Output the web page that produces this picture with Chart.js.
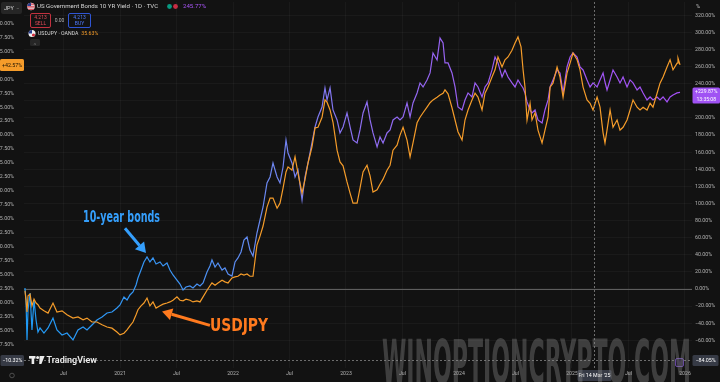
<!DOCTYPE html>
<html><head><meta charset="utf-8">
<script src="https://cdn.jsdelivr.net/npm/chart.js@4.4.1/dist/chart.umd.min.js"></script>
<style>html,body{margin:0;padding:0;background:#121212;overflow:hidden}#wrap{width:720px;height:382px}</style>
</head><body><div id="wrap"><canvas id="c" width="720" height="382"></canvas></div>
<script>
// ---- data (x = fractional year) ----
const dates = [
2020.159,2020.168,2020.177,2020.186,2020.204,2020.221,2020.239,2020.257,2020.274,2020.292,
2020.327,2020.363,2020.407,2020.442,2020.487,2020.531,2020.584,2020.628,2020.673,2020.708,
2020.752,2020.796,2020.841,2020.885,2020.929,2020.973,2021.000,2021.035,2021.062,2021.088,
2021.115,2021.142,2021.159,2021.186,2021.212,2021.239,2021.265,2021.292,2021.319,2021.354,
2021.381,2021.416,2021.442,2021.469,2021.504,2021.531,2021.558,2021.584,2021.619,2021.646,
2021.681,2021.708,2021.735,2021.770,2021.796,2021.814,2021.841,2021.867,2021.903,2021.929,
2021.956,2021.991,2022.018,2022.044,2022.071,2022.097,2022.124,2022.150,2022.177,
2022.212,2022.239,2022.266,2022.301,2022.328,2022.354,2022.390,2022.416,2022.443,2022.469,
2022.487,2022.522,2022.549,2022.575,2022.611,2022.637,2022.664,2022.699,2022.726,2022.752,
2022.788,2022.814,2022.832,2022.859,2022.885,2022.921,2022.947,2022.974,2023.009,2023.036,
2023.062,2023.098,2023.124,2023.151,2023.186,2023.213,2023.239,2023.275,2023.301,2023.328,
2023.363,2023.390,2023.416,2023.452,2023.478,
2023.505,2023.540,2023.567,2023.593,2023.629,2023.655,2023.682,2023.717,2023.744,2023.770,
2023.806,2023.832,2023.859,2023.876,2023.903,2023.938,2023.965,2023.991,2024.027,2024.053,
2024.080,2024.115,2024.142,2024.168,2024.204,2024.230,2024.257,2024.292,2024.319,2024.345,
2024.381,2024.407,2024.434,2024.469,2024.496,2024.522,2024.549,2024.567,2024.584,2024.602,
2024.629,2024.646,2024.673,2024.699,2024.735,2024.761,2024.788,
2024.806,2024.832,2024.868,2024.894,2024.921,2024.956,2024.983,2025.009,2025.045,2025.071,
2025.098,2025.133,2025.160,2025.186,2025.222,2025.248,2025.275,2025.292,2025.310,2025.337,
2025.363,2025.399,2025.425,2025.452,2025.487,2025.514,2025.540,2025.576,2025.602,2025.629,
2025.664,2025.691,2025.717,2025.753,2025.779,2025.806,2025.841,2025.868,2025.894,2025.930,
2025.938,2025.956];

// US 10Y yield, % change (right scale)
const us10y = [
1.2,-12.9,-59.6,-24.6,-4.7,-48.0,-12.9,-36.3,-50.3,-45.6,
-51.5,-45.6,-33.9,-48.0,-53.8,-51.5,-59.6,-48.0,-44.4,-48.0,
-42.1,-36.3,-32.7,-28.1,-26.9,-22.2,-18.7,-9.4,-12.9,-7.0,
-3.5,4.7,12.9,22.2,31.6,37.4,31.6,36.3,29.2,31.6,
26.9,30.4,22.2,16.4,10.5,5.8,-1.2,2.3,3.5,1.2,
5.8,3.5,7.0,19.9,26.9,33.9,25.7,30.4,22.2,24.6,
17.5,15.2,31.6,36.3,43.3,57.3,60.8,45.6,38.6,
65.5,80.7,95.9,124.0,131.0,147.4,131.0,124.0,142.7,174.3,
159.1,147.4,131.0,139.2,104.1,131.0,147.4,170.8,189.5,201.2,
212.9,235.1,221.1,235.1,209.4,197.7,182.5,189.5,205.9,189.5,
174.3,170.8,186.0,205.9,218.8,197.7,182.5,166.1,177.8,170.8,
182.5,186.0,197.7,201.2,197.7,
201.2,217.6,201.2,217.6,229.3,241.0,236.3,244.5,252.7,276.1,
267.9,293.6,287.8,264.4,264.4,252.7,236.3,212.9,209.4,221.1,
229.3,224.6,241.0,236.3,224.6,236.3,241.0,256.2,271.4,264.4,
248.0,256.2,248.0,241.0,236.3,244.5,238.6,235.1,229.3,218.8,
209.4,205.9,209.4,197.7,194.2,209.4,221.1,
236.3,244.5,256.2,252.7,229.3,259.7,271.4,276.1,271.4,259.7,
256.2,244.5,236.3,241.0,236.3,244.5,252.7,242.1,232.8,244.5,
256.2,248.0,241.0,248.0,236.3,244.5,241.0,232.8,236.3,229.3,
221.1,224.6,221.1,224.6,221.1,224.6,218.8,224.6,226.9,229.3,
229.3,229.87];

// USDJPY, % change (left scale)
const usdjpy = [
2.1,0.4,-1.7,1.2,1.5,-0.6,0.6,-0.1,-0.4,-1.0,
-1.5,-1.9,-0.1,-1.7,-1.5,-2.2,-2.8,-2.6,-3.1,-2.8,
-3.5,-3.5,-4.0,-4.4,-4.6,-5.3,-5.8,-5.5,-4.9,-4.2,
-3.5,-2.2,-1.3,-0.6,-0.1,0.8,-0.6,0.1,-1.0,-0.6,
-0.3,-0.1,0.1,0.4,1.0,0.4,0.3,0.6,0.4,0.1,
0.3,0.1,1.0,2.2,3.0,3.5,3.1,3.5,4.0,3.7,
3.5,4.4,4.6,4.7,5.1,4.9,5.1,4.7,4.7,
10.3,11.9,13.7,17.1,18.7,18.7,16.9,17.8,20.5,23.4,
24.3,23.7,26.1,23.2,19.6,22.0,25.0,27.9,31.3,31.4,
33.2,36.3,35.9,34.5,32.3,27.3,25.2,24.5,21.6,19.6,
17.8,17.8,20.5,23.4,24.6,22.7,19.8,20.2,21.2,22.1,
23.7,24.6,27.3,28.2,30.0,
31.4,29.1,26.1,28.6,32.2,33.2,34.0,35.0,35.8,36.3,
36.8,37.2,37.5,38.1,37.4,34.9,32.7,30.6,29.1,32.7,
34.5,36.3,37.5,36.8,34.5,37.5,38.6,40.4,41.7,44.0,
42.2,43.5,44.0,45.2,46.5,47.6,45.8,41.7,38.6,32.7,
35.7,32.7,34.0,30.9,28.6,30.9,33.2,
38.6,39.3,42.2,40.4,36.8,41.1,42.9,44.7,43.5,41.7,
38.6,36.3,35.7,34.5,36.8,35.0,30.4,28.6,30.9,34.5,
31.4,32.7,30.9,31.4,32.7,34.5,36.3,35.0,34.5,35.0,
34.5,35.7,35.0,37.5,39.3,40.4,42.2,43.5,41.7,42.9,
43.8,42.57];

const xTicks = [2020.5,2021,2021.5,2022,2022.5,2023,2023.5,2024,2024.5,2025,2025.5,2026];
const leftTicks = [-7.5,-5,-2.5,0,2.5,5,7.5,10,12.5,15,17.5,20,22.5,25,27.5,30,32.5,35,37.5,40,42.5,45,47.5,50];
const rightTicks = [-60,-40,-20,0,20,40,60,80,100,120,140,160,180,200,220,240,260,280,300,320];

// crosshair (Fri 14 Mar '25) and its read-outs
const crossX = 2025.197, crossLeft = -10.32, crossRight = -84.05;
const crossDateLabel = "Fri 14 Mar '25";
const legend10y = '245.77%', legendJpy = '35.63%';

// annotations in data coordinates
const noteBonds = {text:'10-year bonds', x0:2020.673, x1:2021.354, y:83};
const arrowBonds = {x0:2021.044, y0:71, x1:2021.230, y1:42};
const noteJpy = {text:'USDJPY', x0:2021.796, x1:2022.310, y:-4.2};
const arrowJpy = {x0:2021.796, y0:-4.1, x1:2021.372, y1:-1.6};

const BG = '#121212';
const TXT = '#b2b2b2';
const ORANGE = '#f59c2a';
Chart.defaults.font.family = 'Roboto, "DejaVu Sans", sans-serif';

const fmtPct = v => (v < 0 ? '\u2212' : '') + Math.abs(v).toFixed(2) + '%';

function roundRect(c, x, y, w, h, r) {
  c.beginPath(); c.moveTo(x + r, y); c.lineTo(x + w - r, y); c.quadraticCurveTo(x + w, y, x + w, y + r);
  c.lineTo(x + w, y + h - r); c.quadraticCurveTo(x + w, y + h, x + w - r, y + h); c.lineTo(x + r, y + h);
  c.quadraticCurveTo(x, y + h, x, y + h - r); c.lineTo(x, y + r); c.quadraticCurveTo(x, y, x + r, y); c.closePath();
}
function fitText(c, text, cx, cy, w, font, color) {
  c.save(); c.font = font; const m = c.measureText(text).width;
  c.translate(cx, cy); c.scale(w / m, 1); c.textAlign = 'center'; c.textBaseline = 'middle';
  c.fillStyle = color; c.fillText(text, 0, 0); c.restore();
}
function arrow(c, x0, y0, x1, y1, color, lw, head) {
  const a = Math.atan2(y1 - y0, x1 - x0);
  const bx = x1 - head * Math.cos(a), by = y1 - head * Math.sin(a);
  c.save(); c.strokeStyle = color; c.fillStyle = color; c.lineWidth = lw; c.lineCap = 'butt';
  c.beginPath(); c.moveTo(x0, y0); c.lineTo(bx, by); c.stroke();
  const hw = head * 0.6;
  c.beginPath(); c.moveTo(x1, y1);
  c.lineTo(bx + hw * Math.sin(a), by - hw * Math.cos(a));
  c.lineTo(bx - hw * Math.sin(a), by + hw * Math.cos(a)); c.closePath(); c.fill(); c.restore();
}
function label(c, x, y, w, h, bg, lines, color, font) {
  c.save(); c.fillStyle = bg; roundRect(c, x, y, w, h, 1.5); c.fill();
  c.fillStyle = color; c.font = font; c.textAlign = 'center'; c.textBaseline = 'middle';
  const step = h / lines.length;
  lines.forEach((t, i) => c.fillText(t, x + w / 2, y + step * (i + 0.5) + 0.3));
  c.restore();
}

const bgPlugin = { id: 'bg', beforeDraw(chart) { const c = chart.ctx; c.save(); c.fillStyle = BG; c.fillRect(0, 0, chart.width, chart.height); c.restore(); } };

const overlay = {
  id: 'overlay',
  beforeDatasetsDraw(chart) {
    const { ctx: c, chartArea: a, scales } = chart;
    const y0 = Math.round(scales.yR.getPixelForValue(0)) + 0.5;
    c.save(); c.strokeStyle = '#5e5e5e'; c.lineWidth = 1;
    c.beginPath(); c.moveTo(a.left, y0); c.lineTo(a.right, y0); c.stroke(); c.restore();
  },
  afterDraw(chart) {
    const { ctx: c, chartArea: a, scales } = chart;
    const X = scales.x, L = scales.yL, R = scales.yR;

    // annotations
    const by = R.getPixelForValue(noteBonds.y);
    const bx0 = X.getPixelForValue(noteBonds.x0), bx1 = X.getPixelForValue(noteBonds.x1);
    fitText(c, noteBonds.text, (bx0 + bx1) / 2, by, bx1 - bx0, 'bold 16px "DejaVu Sans Condensed", "DejaVu Sans"', '#359ffc');
    arrow(c, X.getPixelForValue(arrowBonds.x0), R.getPixelForValue(arrowBonds.y0),
          X.getPixelForValue(arrowBonds.x1), R.getPixelForValue(arrowBonds.y1), '#359ffc', 3, 10);
    const jy = L.getPixelForValue(noteJpy.y);
    const jx0 = X.getPixelForValue(noteJpy.x0), jx1 = X.getPixelForValue(noteJpy.x1);
    fitText(c, noteJpy.text, (jx0 + jx1) / 2, jy, jx1 - jx0, 'bold 18px "DejaVu Sans Condensed", "DejaVu Sans"', '#ff7a1e');
    arrow(c, X.getPixelForValue(arrowJpy.x0), L.getPixelForValue(arrowJpy.y0),
          X.getPixelForValue(arrowJpy.x1), L.getPixelForValue(arrowJpy.y1), '#ff7a1e', 3, 10);

    // crosshair
    const cx = Math.round(X.getPixelForValue(crossX)) + 0.5;
    const cy = Math.round(L.getPixelForValue(crossLeft)) + 0.5;
    c.save(); c.strokeStyle = '#6d6d6d'; c.lineWidth = 1; c.setLineDash([2, 2]);
    c.beginPath(); c.moveTo(cx, a.top); c.lineTo(cx, a.bottom); c.stroke();
    c.beginPath(); c.moveTo(a.left, cy); c.lineTo(a.right, cy); c.stroke(); c.restore();

    // TradingView logo
    c.save(); c.fillStyle = '#ececec';
    c.fillRect(29, 356, 6.5, 2.6); c.fillRect(31.6, 356, 2.6, 8);
    c.beginPath(); c.arc(37.6, 357.4, 1.5, 0, Math.PI * 2); c.fill();
    c.beginPath(); c.moveTo(39.6, 356); c.lineTo(44.6, 356); c.lineTo(41.4, 364); c.lineTo(39.2, 364); c.closePath(); c.fill();
    c.font = '600 9px Roboto'; c.textBaseline = 'middle'; c.fillText('TradingView', 46.5, 360.5); c.restore();

    // small icons
    c.save(); c.strokeStyle = '#5a5a5a'; c.lineWidth = 0.8; c.beginPath(); c.arc(12, 375.5, 2.3, 0, Math.PI * 2); c.stroke();
    c.fillStyle = '#241d33'; c.strokeStyle = '#7a56c0'; roundRect(c, 675.5, 358.5, 8, 8, 1.5); c.fill(); c.stroke(); c.restore();

    // last value labels
    const ly = L.getPixelForValue(usdjpy[usdjpy.length - 1]);
    label(c, 0, ly - 6, 24, 12, ORANGE, ['+' + usdjpy[usdjpy.length - 1].toFixed(2) + '%'], '#1a1205', '5.3px Roboto');
    const ry = R.getPixelForValue(us10y[us10y.length - 1]);
    label(c, 692.5, ry - 5, 27.5, 16, '#a052f4', ['+' + us10y[us10y.length - 1].toFixed(2) + '%', '13:35:08'], '#ffffff', '5.1px Roboto');

    // crosshair labels
    label(c, 0.5, cy - 5.5, 23.5, 11, '#363a45', [fmtPct(crossLeft)], '#ffffff', '5.3px Roboto');
    label(c, 692.5, cy - 5.5, 26, 11, '#363a45', [fmtPct(crossRight)], '#ffffff', '5.3px Roboto');
    label(c, cx - 17, a.bottom + 2, 34, 11, '#363a45', [crossDateLabel], '#ffffff', '5.3px Roboto');

    // header / legend
    c.save(); c.textBaseline = 'middle';
    c.fillStyle = '#262626'; roundRect(c, 1, 2, 21, 12, 2); c.fill();
    c.fillStyle = '#d8d8d8'; c.font = '5.5px Roboto'; c.fillText('JPY', 4, 8.3);
    c.fillStyle = '#8a8a8a'; c.fillText('\u2212', 16, 8.3);
    // US flag
    c.save(); c.beginPath(); c.arc(31, 6.5, 3.8, 0, Math.PI * 2); c.clip();
    c.fillStyle = '#eeeeee'; c.fillRect(27, 2, 8, 9);
    c.fillStyle = '#d22f3f'; for (let i = 0; i < 5; i++) c.fillRect(27, 2.7 + i * 1.6, 8, 0.8);
    c.fillStyle = '#2a3f8f'; c.fillRect(27, 2, 4, 4); c.restore();
    c.fillStyle = '#d6d6d6'; c.font = '6.1px Roboto';
    c.fillText('US Government Bonds 10 YR Yield \u00b7 1D \u00b7 TVC', 37, 6.8);
    c.fillStyle = '#089981'; c.beginPath(); c.arc(169.5, 6.5, 2.4, 0, Math.PI * 2); c.fill();
    c.fillStyle = '#c62d44'; c.beginPath(); c.arc(175.5, 6.5, 2.4, 0, Math.PI * 2); c.fill();
    c.fillStyle = '#a855f7'; c.fillText(legend10y, 183, 6.8);
    // sell / buy
    c.strokeStyle = '#c2313f'; c.lineWidth = 1; roundRect(c, 30.5, 13.5, 20, 14, 1.5); c.stroke();
    c.strokeStyle = '#2f55d4'; roundRect(c, 68.5, 13.5, 22, 14, 1.5); c.stroke();
    c.textAlign = 'center'; c.font = '5px Roboto';
    c.fillStyle = '#e04a57'; c.fillText('4.213', 40.5, 17.8); c.fillText('SELL', 40.5, 23.8);
    c.fillStyle = '#4f7bff'; c.fillText('4.213', 79.5, 17.8); c.fillText('BUY', 79.5, 23.8);
    c.fillStyle = '#b0b0b0'; c.fillText('0.00', 59.5, 20.8);
    c.textAlign = 'left';
    // USDJPY row
    c.save(); c.beginPath(); c.arc(32, 33.5, 3.5, 0, Math.PI * 2); c.clip();
    c.fillStyle = '#f2f2f2'; c.fillRect(28, 29, 8, 9); c.fillStyle = '#2a3f8f'; c.fillRect(28, 29, 4, 4.5);
    c.fillStyle = '#d22f3f'; c.beginPath(); c.arc(33.5, 35, 1.6, 0, Math.PI * 2); c.fill(); c.restore();
    c.fillStyle = '#d6d6d6'; c.font = '5.2px Roboto';
    const jt = 'USDJPY \u00b7 OANDA';
    c.fillText(jt, 38, 33.8);
    c.fillStyle = ORANGE; c.fillText(legendJpy, 38 + c.measureText(jt).width + 3, 33.8);
    c.fillStyle = '#262626'; roundRect(c, 30, 39, 10, 7, 1.5); c.fill();
    c.fillStyle = '#bbbbbb'; c.font = '5px Roboto'; c.textAlign = 'center'; c.fillText('\u02c4', 35, 43.5);
    // % unit box
    c.fillStyle = '#bdbdbd'; c.font = '5.5px Roboto'; c.fillText('%', 698, 6.5);
    c.restore();

    // watermark
    c.save();
    c.font = 'bold 60px "DejaVu Sans Condensed", "DejaVu Sans"';
    const wt = 'WINOPTIONCRYPTO.COM'; const ww = c.measureText(wt).width;
    c.translate(382, 383); c.scale(309 / ww, 1); c.fillStyle = 'rgba(140,140,140,0.36)';
    c.textBaseline = 'alphabetic'; c.fillText(wt, 0, 0); c.restore();
  }
};

const faint = 'rgba(255,255,255,0.035)';

new Chart(document.getElementById('c'), {
  type: 'line',
  data: {
    datasets: [
      { label: 'USDJPY', yAxisID: 'yL', data: dates.map((d, i) => ({ x: d, y: usdjpy[i] })),
        borderColor: ORANGE, borderWidth: 1.2, pointRadius: 0, tension: 0, fill: false },
      { label: 'US10Y', yAxisID: 'yR', data: dates.map((d, i) => ({ x: d, y: us10y[i] })),
        borderWidth: 1.2, pointRadius: 0, tension: 0, fill: false,
        borderColor: (ctx) => {
          const ch = ctx.chart, a = ch.chartArea;
          if (!a) return '#7a80f0';
          const g = ch.ctx.createLinearGradient(a.left, 0, a.right, 0);
          g.addColorStop(0, '#1f9af5'); g.addColorStop(0.22, '#3a94f4');
          g.addColorStop(0.36, '#6a88f0'); g.addColorStop(0.5, '#8c6ef0');
          g.addColorStop(0.7, '#9c5cf2'); g.addColorStop(1, '#a44ef6');
          return g;
        } }
    ]
  },
  options: {
    responsive: false, animation: false, devicePixelRatio: 1,
    layout: { padding: { top: 2, left: 0, right: 0, bottom: 0 } },
    plugins: { legend: { display: false }, tooltip: { enabled: false } },
    scales: {
      x: { type: 'linear', min: 2020.1504, max: 2026.062,
        afterBuildTicks: (s) => { s.ticks = xTicks.map(v => ({ value: v })); },
        afterFit: (s) => { s.height = 14; s.paddingLeft = 0; s.paddingRight = 0; },
        ticks: { autoSkip: false, maxRotation: 0, minRotation: 0, padding: 3, color: TXT, font: { size: 5.2 },
          callback: (v) => Number.isInteger(v) ? String(v) : 'Jul' },
        grid: { color: faint, drawTicks: false }, border: { display: false } },
      yL: { position: 'left', min: -11.74, max: 53.85,
        afterBuildTicks: (s) => { s.ticks = leftTicks.map(v => ({ value: v })); },
        afterFit: (s) => { s.width = 24; s.paddingTop = 0; s.paddingBottom = 0; },
        ticks: { autoSkip: false, padding: 2, color: TXT, font: { size: 5.3 }, callback: (v) => fmtPct(v) },
        grid: { display: false }, border: { display: false } },
      yR: { position: 'right', min: -92.4, max: 335.67,
        afterBuildTicks: (s) => { s.ticks = rightTicks.map(v => ({ value: v })); },
        afterFit: (s) => { s.width = 28; s.paddingTop = 0; s.paddingBottom = 0; },
        ticks: { autoSkip: false, padding: 3, color: TXT, font: { size: 5.3 }, callback: (v) => fmtPct(v) },
        grid: { color: faint, drawTicks: false }, border: { display: false } }
    }
  },
  plugins: [bgPlugin, overlay]
});
</script></body></html>
